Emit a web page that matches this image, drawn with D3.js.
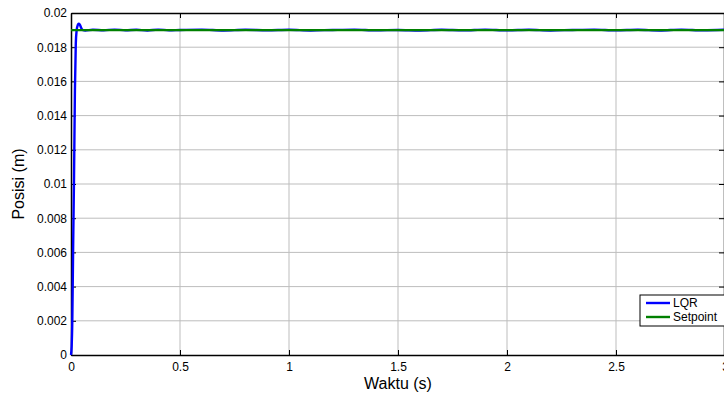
<!DOCTYPE html>
<html>
<head>
<meta charset="utf-8">
<script src="https://cdn.jsdelivr.net/npm/d3@7"></script>
<style>
  body { margin: 0; background: #fff; }
  svg { display: block; font-family: "Liberation Sans", Arial, sans-serif; }
</style>
</head>
<body>
<svg id="chart" width="724" height="398"></svg>
<script>
// time (s) and position (m)
var lqrTime = [0, 0.003, 0.006, 0.010, 0.014, 0.018, 0.022, 0.026, 0.030, 0.033, 0.036, 0.039, 0.042, 0.046, 0.050, 0.055, 0.065,
  0.10, 0.15, 0.20, 0.25, 0.30, 0.35, 0.40, 0.45, 0.50, 0.60, 0.70, 0.80, 0.90, 1.00,
  1.10, 1.20, 1.30, 1.40, 1.50, 1.60, 1.70, 1.80, 1.90, 2.00, 2.10, 2.20, 2.30, 2.40,
  2.50, 2.60, 2.70, 2.80, 2.90, 3.00];
var lqrPos = [0, 0.0005, 0.0020, 0.0065, 0.0105, 0.0155, 0.0182, 0.0190, 0.01925, 0.01935, 0.01938, 0.01935, 0.01928, 0.01915, 0.01905, 0.01900, 0.01898,
  0.01902, 0.01899, 0.01903, 0.01899, 0.01902, 0.01898, 0.01903, 0.01899, 0.01901, 0.01903, 0.01898, 0.01902, 0.01899, 0.01902,
  0.01898, 0.01901, 0.01903, 0.01899, 0.01901, 0.01898, 0.01902, 0.01899, 0.01903, 0.01899, 0.01902, 0.01898, 0.01901, 0.01903,
  0.01899, 0.01902, 0.01898, 0.01903, 0.01899, 0.01902];
var setTime = [0, 3];
var setPos = [0.019, 0.019];

var xTicks = [0, 0.5, 1, 1.5, 2, 2.5, 3];
var yTicks = [0, 0.002, 0.004, 0.006, 0.008, 0.01, 0.012, 0.014, 0.016, 0.018, 0.02];
var legendNames = ['LQR', 'Setpoint'];
var colors = ['#0000ff', '#008000'];

var svg = d3.select('#chart');
var plotL = 71, plotR = 725, plotT = 13, plotB = 355;

var x = d3.scaleLinear().domain([0, 3]).range([plotL, plotR]);
var y = d3.scaleLinear().domain([0, 0.02]).range([plotB, plotT]);

// grid
var grid = svg.append('g');
grid.selectAll('line.gx').data(xTicks.slice(1, -1)).enter().append('line')
  .attr('x1', function(d) { return x(d); }).attr('x2', function(d) { return x(d); })
  .attr('y1', plotT).attr('y2', plotB)
  .attr('stroke', '#bdbdbd').attr('stroke-width', 1);
grid.selectAll('line.gy').data(yTicks.slice(1, -1)).enter().append('line')
  .attr('x1', plotL).attr('x2', plotR)
  .attr('y1', function(d) { return y(d); }).attr('y2', function(d) { return y(d); })
  .attr('stroke', '#bdbdbd').attr('stroke-width', 1);

// axes with inward ticks
var fmt = function(d) { return String(+d.toFixed(3)); };
var xAxis = svg.append('g').attr('transform', 'translate(0,' + plotB + ')')
  .call(d3.axisBottom(x).tickValues(xTicks).tickSizeInner(-5).tickSizeOuter(0).tickPadding(7).tickFormat(fmt));
var yAxis = svg.append('g').attr('transform', 'translate(' + plotL + ',0)')
  .call(d3.axisLeft(y).tickValues(yTicks).tickSizeInner(-5).tickSizeOuter(0).tickPadding(4).tickFormat(fmt));
var xTop = svg.append('g').attr('transform', 'translate(0,' + plotT + ')')
  .call(d3.axisTop(x).tickValues(xTicks).tickSizeInner(-5).tickSizeOuter(0).tickFormat(''));
var yRight = svg.append('g').attr('transform', 'translate(' + (plotR - 1) + ',0)')
  .call(d3.axisRight(y).tickValues(yTicks).tickSizeInner(-5).tickSizeOuter(0).tickFormat(''));

[xAxis, yAxis, xTop, yRight].forEach(function(a) {
  a.select('.domain').attr('stroke', '#000').attr('stroke-width', 1.5);
  a.selectAll('.tick line').attr('stroke', '#000');
  a.selectAll('.tick text').attr('fill', '#000').style('font-size', '12px')
    .style('font-family', '"Liberation Sans", Arial, sans-serif');
});

// lines
var line = d3.line()
  .curve(d3.curveMonotoneX)
  .x(function(d) { return x(d[0]); })
  .y(function(d) { return y(d[1]); });

svg.append('path')
  .datum(d3.zip(lqrTime, lqrPos))
  .attr('d', line).attr('fill', 'none')
  .attr('stroke', colors[0]).attr('stroke-width', 2.4);
svg.append('path')
  .datum(d3.zip(setTime, setPos))
  .attr('d', line).attr('fill', 'none')
  .attr('stroke', colors[1]).attr('stroke-width', 2.4);

// axis labels
svg.append('text').attr('x', (plotL + plotR) / 2).attr('y', 389)
  .attr('text-anchor', 'middle').style('font-size', '16px').text('Waktu (s)');
svg.append('text').attr('transform', 'translate(24,' + ((plotT + plotB) / 2) + ') rotate(-90)')
  .attr('text-anchor', 'middle').style('font-size', '16px').text('Posisi (m)');

// legend
var lg = svg.append('g').attr('transform', 'translate(640,295)');
lg.append('rect').attr('x', 0).attr('y', 0).attr('width', 90).attr('height', 31)
  .attr('fill', '#fff').attr('stroke', '#000').attr('stroke-width', 1);
var items = lg.selectAll('g.item').data(legendNames).enter().append('g')
  .attr('transform', function(d, i) { return 'translate(0,' + (8 + i * 14) + ')'; });
items.append('line').attr('x1', 6).attr('x2', 30).attr('y1', 0).attr('y2', 0)
  .attr('stroke', function(d, i) { return colors[i]; }).attr('stroke-width', 2.4);
items.append('text').attr('x', 33).attr('y', 4).style('font-size', '12px').text(function(d) { return d; });
</script>
</body>
</html>
